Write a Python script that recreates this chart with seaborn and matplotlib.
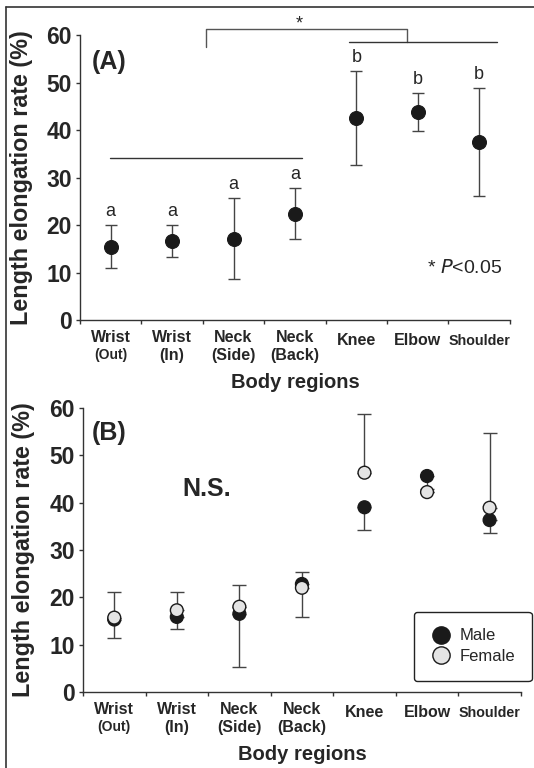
import numpy as np
import pandas as pd
import seaborn as sns
import matplotlib.pyplot as plt
from matplotlib.lines import Line2D

sns.set_style('ticks')
plt.rcParams['font.family'] = ['Liberation Sans', 'DejaVu Sans']

# Body regions (tick label main line + second line)
region_main = ['Wrist', 'Wrist', 'Neck', 'Neck', 'Knee', 'Elbow', 'Shoulder']
region_sub = ['(Out)', '(In)', '(Side)', '(Back)', '', '', '']

# Panel A: all subjects, mean with lower / upper bounds of error bars
all_mean = [15.4, 16.6, 17.1, 22.4, 42.5, 43.8, 37.5]
all_low = [10.9, 13.2, 8.6, 17.0, 32.6, 39.8, 26.2]
all_high = [20.1, 20.0, 25.8, 27.9, 52.5, 47.9, 48.8]
group_letters = ['a', 'a', 'a', 'a', 'b', 'b', 'b']

# Panel B: by sex (lower/upper bound; only one direction drawn per sex)
male_mean = [15.3, 15.85, 16.5, 22.8, 39.0, 45.6, 36.3]
male_low = [11.5, 13.3, 5.35, 22.8, 34.3, 42.8, 33.5]
male_high = [15.3, 15.85, 16.5, 25.35, 39.0, 45.6, 36.3]
female_mean = [15.7, 17.25, 18.0, 22.0, 46.3, 42.2, 38.9]
female_low = [15.7, 17.25, 18.0, 15.8, 46.3, 42.2, 38.9]
female_high = [21.1, 21.2, 22.6, 22.0, 58.7, 42.2, 54.6]

pos = np.arange(len(region_main))
df_a = pd.DataFrame({'pos': pos, 'mean': all_mean})
df_b = pd.concat([
    pd.DataFrame({'pos': pos, 'mean': male_mean, 'sex': 'Male'}),
    pd.DataFrame({'pos': pos, 'mean': female_mean, 'sex': 'Female'}),
])

fig = plt.figure(figsize=(5.34, 7.68), dpi=100)
ax_a = fig.add_axes([0.1498, 0.5833, 0.805, 0.371])
ax_b = fig.add_axes([0.1554, 0.099, 0.820, 0.370])

# frame lines of the original figure box
fig.add_artist(Line2D([0.012, 0.012], [0, 0.991], color='#333333', lw=1.2))
fig.add_artist(Line2D([0.012, 1], [0.991, 0.991], color='#333333', lw=1.2))


def style_axis(ax):
    ax.set_xlim(-0.5, 6.5)
    ax.set_ylim(0, 60)
    ax.set_yticks(range(0, 61, 10))
    ax.set_xticks(np.arange(-0.5, 7, 1))
    ax.set_xticklabels([])
    for s in ['top', 'right']:
        ax.spines[s].set_visible(False)
    for s in ['left', 'bottom']:
        ax.spines[s].set_color('#333333')
        ax.spines[s].set_linewidth(1.0)
    ax.tick_params(axis='both', length=3, width=1, color='#333333')
    ax.tick_params(axis='y', labelsize=16.5, pad=3)
    for lab in ax.get_yticklabels():
        lab.set_fontweight('bold')
    for i, (m, s) in enumerate(zip(region_main, region_sub)):
        if s:
            ax.annotate(m, (i, 0), xycoords=('data', 'axes fraction'),
                        xytext=(0, -7.5), textcoords='offset points',
                        ha='center', va='top', fontsize=11.5, fontweight='bold')
            ax.annotate(s, (i, 0), xycoords=('data', 'axes fraction'),
                        xytext=(0, -20), textcoords='offset points',
                        ha='center', va='top',
                        fontsize=10 if s == '(Out)' else 11.5, fontweight='bold')
        else:
            ax.annotate(m, (i, 0), xycoords=('data', 'axes fraction'),
                        xytext=(0, -15), textcoords='offset points',
                        ha='center', va='center',
                        fontsize=10.3 if m == 'Shoulder' else 11.5, fontweight='bold')


def axis_labels(ax, xlab_y, ylab_x):
    ax.set_xlabel('Body regions', fontsize=14.5, fontweight='bold')
    ax.set_ylabel('Length elongation rate (%)', fontsize=16.8, fontweight='bold')
    ax.xaxis.set_label_coords(0.5, xlab_y)
    ax.yaxis.set_label_coords(ylab_x, 0.5)


# ---- Panel A ----
style_axis(ax_a)
ax_a.errorbar(pos, all_mean,
              yerr=[np.array(all_mean) - np.array(all_low), np.array(all_high) - np.array(all_mean)],
              fmt='none', ecolor='#444444', elinewidth=1, capsize=4, capthick=1, zorder=2)
sns.scatterplot(data=df_a, x='pos', y='mean', ax=ax_a, color='#1a1a1a',
                s=100, edgecolor='#1a1a1a', zorder=3, legend=False)
axis_labels(ax_a, -0.186, -0.11)
for i, letter in enumerate(group_letters):
    ax_a.text(i, all_high[i] + 2.8, letter, ha='center', va='center', fontsize=13)

# significance lines
ax_a.plot([-0.01, 3.11], [34.2, 34.2], color='#333333', lw=1)
ax_a.plot([1.55, 1.55, 4.82, 4.82], [57.5, 61.3, 61.3, 58.5], color='#555555', lw=1, clip_on=False)
ax_a.plot([3.88, 6.29], [58.5, 58.5], color='#333333', lw=1, clip_on=False)
ax_a.text(3.07, 62.3, '*', ha='center', va='center', fontsize=13)
ax_a.text(0.028, 0.905, '(A)', transform=ax_a.transAxes, fontsize=18, fontweight='bold', va='center')
ax_a.text(0.807, 0.182, '* $\\mathit{P}$<0.05', transform=ax_a.transAxes, fontsize=14, va='center')

# ---- Panel B ----
style_axis(ax_b)
ax_b.errorbar(pos, male_mean,
              yerr=[np.array(male_mean) - np.array(male_low), np.array(male_high) - np.array(male_mean)],
              fmt='none', ecolor='#444444', elinewidth=1, capsize=5, capthick=1, zorder=2)
ax_b.errorbar(pos, female_mean,
              yerr=[np.array(female_mean) - np.array(female_low), np.array(female_high) - np.array(female_mean)],
              fmt='none', ecolor='#444444', elinewidth=1, capsize=5, capthick=1, zorder=2)
sns.scatterplot(data=df_b, x='pos', y='mean', hue='sex', ax=ax_b,
                palette={'Male': '#1a1a1a', 'Female': '#e4e4e4'},
                s=85, edgecolor='#1a1a1a', linewidth=1, zorder=3)
axis_labels(ax_b, -0.187, -0.11)
handles, labels = ax_b.get_legend_handles_labels()
leg = ax_b.legend(handles, labels, loc='lower right', bbox_to_anchor=(1.025, 0.039),
                  borderaxespad=0, fontsize=12, frameon=True, fancybox=True, markerscale=1.35,
                  handletextpad=0.45, borderpad=1.0, labelspacing=0.35, handlelength=1.3)
leg.get_frame().set_edgecolor('#222222')
leg.get_frame().set_linewidth(1.0)
leg.get_frame().set_alpha(1)
ax_b.text(0.02, 0.912, '(B)', transform=ax_b.transAxes, fontsize=18, fontweight='bold', va='center')
ax_b.text(0.228, 0.715, 'N.S.', transform=ax_b.transAxes, fontsize=18, fontweight='bold', va='center')

fig.savefig('out.png', dpi=100)
